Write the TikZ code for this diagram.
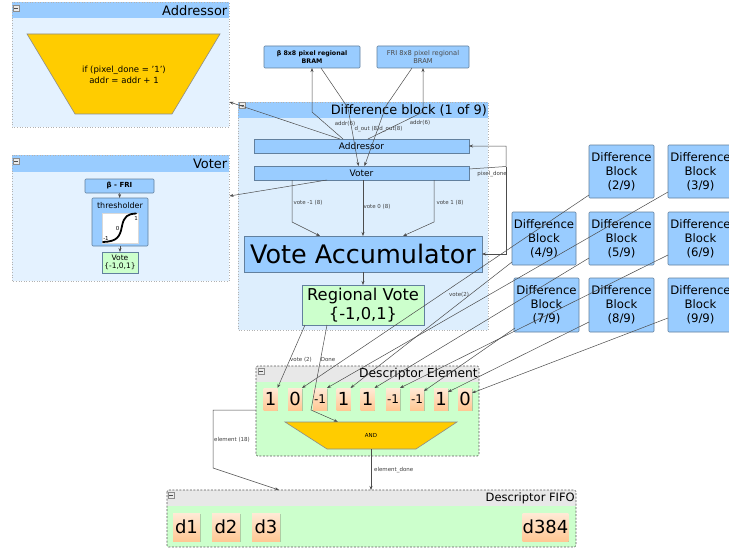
\documentclass[tikz,border=0pt]{standalone}
\usepackage{fontspec}
\setmainfont{DejaVu Sans}
\usetikzlibrary{calc,arrows.meta,shadows}
\definecolor{hdrblue}{HTML}{99CCFF}
\definecolor{panelblue}{HTML}{E4F2FF}
\definecolor{diffbody}{HTML}{DDEEFD}
\definecolor{goldc}{HTML}{FFCC00}
\definecolor{lgreen}{HTML}{CCFFCC}
\definecolor{hdrgray}{HTML}{E8E8E8}
\definecolor{boxline}{HTML}{62809E}
\definecolor{celltop}{HTML}{FFEAD6}
\definecolor{cellbot}{HTML}{FFC794}
\newcommand{\fz}[2]{\fontsize{#1}{#2}\selectfont}
\newcommand{\sq}{\char"27\relax}
\newcommand{\cbox}[2]{\draw[draw=black!45, fill=black!8, line width=0.4pt] (#1-3,#2-3) rectangle (#1+3,#2+3); \draw[black!70, line width=0.5pt] (#1-1.6,#2) -- (#1+1.6,#2);}
\begin{document}
\begin{tikzpicture}[x=1pt,y=-1pt,
  box/.style={draw=boxline, fill=hdrblue, line width=0.6pt, inner sep=0pt, outer sep=0pt, align=center, rounded corners=1pt},
  gbox/.style={draw=boxline, fill=lgreen, line width=0.6pt, inner sep=0pt, outer sep=0pt, align=center},
  panel/.style={fill=panelblue, inner sep=0pt, outer sep=0pt},
  pborder/.style={draw=black!30, dotted, line width=0.6pt},
  dborder/.style={draw=black!65, line width=0.6pt, dash pattern=on 2pt off 1.5pt},
  hdr/.style={fill=hdrblue, inner sep=0pt, outer sep=0pt},
  ghdr/.style={fill=hdrgray, inner sep=0pt, outer sep=0pt},
  ptitle/.style={anchor=east, inner sep=0pt, text=black},
  cell/.style={top color=celltop, bottom color=cellbot, inner sep=0pt, outer sep=0pt, drop shadow={shadow xshift=0.8pt, shadow yshift=-0.8pt, fill=black, opacity=0.2}},
  arr/.style={draw=black!70, line width=0.5pt, -{Stealth[length=4pt,width=3pt]}},
  lbl/.style={font=\fz{5.5pt}{6.5pt}, text=black!75, inner sep=0pt},
  dblock/.style={box, minimum width=65pt, minimum height=53pt, font=\fz{11.7pt}{14pt}},
  ecell/.style={cell, minimum width=14pt, minimum height=22pt, font=\fz{18pt}{18pt}},
  ecellm/.style={cell, minimum width=14pt, minimum height=22pt, font=\fz{12pt}{12pt}},
  fcell/.style={cell, minimum height=28pt, font=\fz{18pt}{18pt}}
]
\useasboundingbox (0,0) rectangle (729,551);
\fill[white] (0,0) rectangle (729,551);

% ---------- Addressor panel
\node[panel, minimum width=217pt, minimum height=125pt] (addrP) at (120.5,64.5) {};
\node[hdr, minimum width=217pt, minimum height=16pt] (addrH) at (120.5,10) {};
\draw[pborder] (addrP.north west) rectangle (addrP.south east);
\node[ptitle, font=\fz{13pt}{15pt}] (addrT) at ($(addrH.east)+(-1.5,0.5)$) {Addressor};
\cbox{16}{8}
\filldraw[fill=goldc, draw=black!45, line width=0.6pt] (27,34) -- (220,34) -- (172,114) -- (75,114) -- cycle;
\node[font=\fz{8.5pt}{10.5pt}, align=center, inner sep=0pt] (addrCode) at (124,75) {if (pixel\_done = \sq1\sq)\\addr = addr + 1};

% ---------- Voter panel
\node[panel, minimum width=217pt, minimum height=126pt] (voterP) at (120.5,218) {};
\node[hdr, minimum width=217pt, minimum height=17pt] (voterH) at (120.5,163.5) {};
\draw[pborder] (voterP.north west) rectangle (voterP.south east);
\node[ptitle, font=\fz{13pt}{15pt}] (voterT) at ($(voterH.east)+(-1.5,0.5)$) {Voter};
\cbox{16}{161}
\node[box, minimum width=69pt, minimum height=14pt, font=\bfseries\fz{7pt}{8pt}] (bfri) at (119.5,186) {β - FRI};
\node[box, minimum width=56pt, minimum height=48pt] (thr) at (120,222) {};
\node[font=\fz{8pt}{9pt}, inner sep=0pt] (thrT) at (120,205.5) {thresholder};
\node[fill=white, draw=black!15, line width=0.3pt, minimum width=36pt, minimum height=30pt, inner sep=0pt] (curveBox) at (120,228.5) {};
\draw[line width=1.8pt, line cap=round] (103,242) .. controls (117,241.5) and (120,237) .. (122,226) .. controls (124,216) and (128,214) .. (136,213.5);
\node[font=\fz{5.5pt}{6pt}, inner sep=0pt] (lm1) at (106,238) {-1};
\node[font=\fz{5.5pt}{6pt}, inner sep=0pt] (l0) at (117.5,228) {0};
\node[font=\fz{5.5pt}{6pt}, inner sep=0pt] (l1) at (136,218) {1};
\node[gbox, minimum width=36pt, minimum height=21pt, font=\fz{7.5pt}{8.5pt}] (vote) at (120,262.5) {Vote\\\{-1,0,1\}};
\draw[arr] (bfri) -- (thr);
\draw[arr] (thr) -- (vote);

% ---------- Difference block (1 of 9)
\node[panel, fill=diffbody, minimum width=250pt, minimum height=228pt] (diffP) at (363,216) {};
\node[hdr, minimum width=250pt, minimum height=16pt] (diffH) at (363,110) {};
\draw[pborder] (diffP.north west) rectangle (diffP.south east);
\node[ptitle, font=\fz{12.9pt}{15pt}] (diffT) at ($(diffH.east)+(-1,0.5)$) {Difference block (1 of 9)};
\cbox{242}{105}
\node[box, rounded corners=0pt, minimum width=215pt, minimum height=14pt, font=\fz{9pt}{10pt}] (addrBar) at (361.5,146) {Addressor};
\node[box, rounded corners=0pt, minimum width=215pt, minimum height=14pt, font=\fz{9pt}{10pt}] (voterBar) at (361.5,173) {Voter};
\node[box, minimum width=96pt, minimum height=22pt, font=\bfseries\fz{6.3pt}{7.5pt}] (bramB) at (312,57) {β 8x8 pixel regional\\BRAM};
\node[box, minimum width=92pt, minimum height=22pt, font=\fz{6.7pt}{7.5pt}, text=black!70] (bramF) at (423,57) {FRI 8x8 pixel regional\\BRAM};
\node[box, rounded corners=0pt, minimum width=238pt, minimum height=36pt, font=\fz{25.5pt}{28pt}] (acc) at (363,254) {Vote Accumulator};
\node[gbox, minimum width=122pt, minimum height=40pt, font=\fz{16.3pt}{19pt}] (rvote) at (363,305) {Regional Vote\\\{-1,0,1\}};

% ---------- Other difference blocks
\node[dblock] (db2) at (621.5,171.5) {Difference\\Block\\(2/9)};
\node[dblock] (db3) at (700.5,171.5) {Difference\\Block\\(3/9)};
\node[dblock, minimum width=64pt] (db4) at (544,238.5) {Difference\\Block\\(4/9)};
\node[dblock] (db5) at (621.5,238.5) {Difference\\Block\\(5/9)};
\node[dblock] (db6) at (700.5,238.5) {Difference\\Block\\(6/9)};
\node[dblock, minimum height=54pt] (db7) at (546.5,305) {Difference\\Block\\(7/9)};
\node[dblock, minimum height=54pt] (db8) at (621.5,305) {Difference\\Block\\(8/9)};
\node[dblock, minimum height=54pt] (db9) at (700.5,305) {Difference\\Block\\(9/9)};

% ---------- Descriptor Element
\node[panel, fill=lgreen, minimum width=223pt, minimum height=90pt] (deP) at (367.5,411) {};
\node[ghdr, minimum width=223pt, minimum height=16pt] (deH) at (367.5,374) {};
\draw[dborder, rounded corners=1.5pt] (deP.north west) rectangle (deP.south east);
\node[ptitle, font=\fz{12.3pt}{14pt}] (deT) at ($(deH.east)+(-1,0.5)$) {Descriptor Element};
\cbox{261}{371}
\node[ecell] (c1) at (270.5,399) {1};
\node[ecell] (c2) at (295,399) {0};
\node[ecellm] (c3) at (320,399) {-1};
\node[ecell] (c4) at (343.5,399) {1};
\node[ecell] (c5) at (367.5,399) {1};
\node[ecellm] (c6) at (393,399) {-1};
\node[ecellm] (c7) at (417,399) {-1};
\node[ecell] (c8) at (441,399) {1};
\node[ecell] (c9) at (465,399) {0};
\filldraw[fill=goldc, draw=black!45, line width=0.6pt] (285,422) -- (457,422) -- (416,449) -- (327,449) -- cycle;
\node[font=\fz{5.5pt}{6pt}, minimum width=172pt, minimum height=27pt, inner sep=0pt] (andg) at (371,435.5) {AND};

% ---------- Descriptor FIFO
\node[panel, fill=lgreen, minimum width=409pt, minimum height=57pt] (fifoP) at (371.5,518.5) {};
\node[ghdr, minimum width=409pt, minimum height=16pt] (fifoH) at (371.5,498) {};
\draw[dborder, rounded corners=1.5pt] (fifoP.north west) rectangle (fifoP.south east);
\node[ptitle, font=\fz{11.5pt}{13pt}] (fifoT) at ($(fifoH.east)+(-1,0.5)$) {Descriptor FIFO};
\cbox{171}{495}
\node[fcell, minimum width=27pt] (d1) at (186.5,527) {d1};
\node[fcell, minimum width=28pt] (d2) at (226,527) {d2};
\node[fcell, minimum width=28pt] (d3) at (266,527) {d3};
\node[fcell, minimum width=45pt] (d384) at (545.5,527) {d384};

% ---------- connectors inside difference block
\draw[arr] ($(addrBar.north west)+(89,0)$) -- (312,112) -- (bramB.south);
\draw[arr] ($(bramB.south)+(9,0)$) -- (348,108) -- ($(voterBar.north)+(-3,0)$);
\draw[arr] ($(bramF.south)+(-11,0)$) -- (386,106) -- ($(voterBar.north)+(3,0)$);
\draw[arr] ($(addrBar.north)+(6.5,0)$) -- (423,112) -- (bramF.south);
\node[lbl] (lA) at (345,123.5) {addr(6)};
\node[lbl] (lB) at (367,129.5) {d\_out (8)};
\node[lbl] (lC) at (391,129.5) {d\_out(8)};
\node[lbl] (lD) at (420,122.5) {addr(6)};

\draw[arr] ($(addrBar.north west)+(86,0)$) -- ($(addrP.north east)+(0.5,100)$);
\draw[arr] ($(voterBar.south west)+(73,0)$) -- ($(voterP.north east)+(0.5,41)$);

\draw[arr] ($(voterBar.east)+(0,-4)$) -- (506,166.5) |- (addrBar.east);
\draw[arr] (506,166.5) |- (acc.east);
\node[lbl] (lPD) at (492,174) {pixel\_done};

\draw[arr] ($(voterBar.south west)+(38,0)$) -- (292,222) -- ($(acc.north west)+(76,0)$);
\draw[arr] (voterBar.south -| acc.north) -- (acc.north);
\draw[arr] ($(voterBar.south west)+(180,0)$) -- (434,222) -- ($(acc.north west)+(159,0)$);
\node[lbl] (lv1) at (308,203) {vote -1 (8)};
\node[lbl] (lv2) at (377,207) {vote 0 (8)};
\node[lbl] (lv3) at (450,203) {vote 1 (8)};
\draw[arr] (acc.south) -- (rvote.north);

% ---------- to descriptor element
\draw[arr] ($(rvote.south west)+(3,0)$) -- (c1.north east);
\draw[arr] ($(rvote.south west)+(25,0)$) -- (311,410) -- ($(andg.north west)+(53,0)$);
\node[lbl] (lvote) at (301,360) {vote (2)};
\node[lbl] (ldone) at (328,360) {Done};

\draw[arr] ($(db2.south west)+(0,-3)$) -- (c2.north east);
\draw[arr] ($(db3.south west)+(0,-6)$) -- (c3.north east);
\draw[arr] ($(db4.south west)+(0,-3)$) -- (c4.north east);
\draw[arr] ($(db5.south west)+(0,-7)$) -- (c5.north east);
\draw[arr] ($(db6.south west)+(0,-10)$) -- (c6.north east);
\draw[arr] ($(db7.south west)+(1,-4)$) -- ($(c7.north east)+(0,3)$);
\draw[arr] ($(db8.south west)+(0,-10)$) -- ($(c8.north east)+(0,4)$);
\draw[arr] ($(db9.south west)+(0,-14)$) -- ($(c9.north east)+(0,5)$);
\node[lbl] (lvote2) at (459,295) {vote(2)};

% ---------- to FIFO
\draw[arr] ($(deP.north west)+(0,44)$) -- (213,410) -- (213,468) -- ($(fifoP.north west)+(112,0)$);
\node[lbl] (lel) at (232,440) {element (18)};
\draw[arr] (andg.south) -- (andg.south |- fifoP.north);
\node[lbl, anchor=west] (leld) at (374,470) {element\_done};
\end{tikzpicture}
\end{document}
